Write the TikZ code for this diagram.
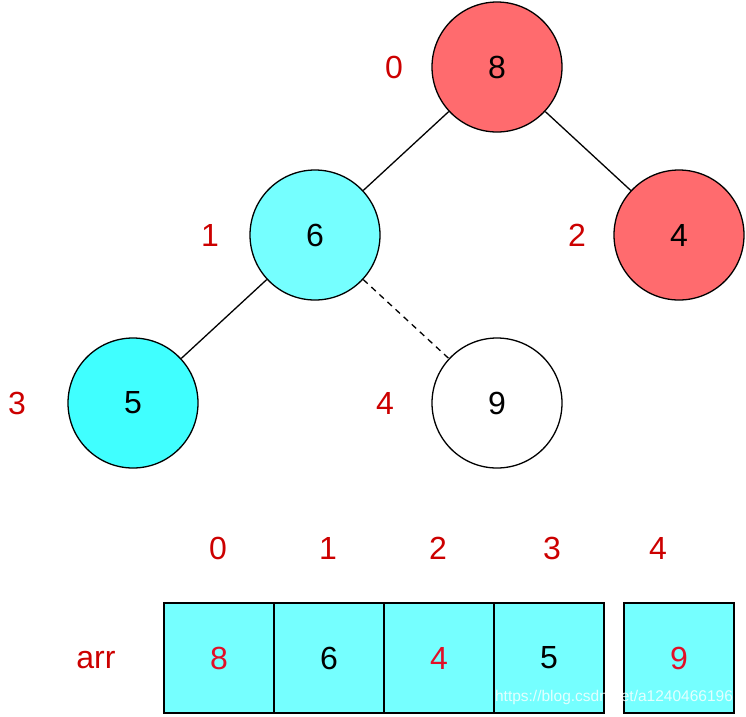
\documentclass[tikz,border=0pt]{standalone}
\usepackage{fontspec}
\setmainfont{Liberation Sans}
\usepackage{tikz}
\definecolor{heapred}{RGB}{255,107,110}
\definecolor{heapcyan}{RGB}{117,255,255}
\definecolor{deepcyan}{RGB}{64,255,255}
\definecolor{idxred}{RGB}{204,0,0}
\definecolor{arrred}{RGB}{225,15,40}

\begin{document}
\begin{tikzpicture}[x=1pt,y=-1pt,
        heapnode/.style={draw,circle,line width=1.3pt,minimum size=130pt,inner sep=0pt,font=\fontsize{32}{38}\selectfont},
        idx/.style={text=idxred,inner sep=0pt,font=\fontsize{32}{38}\selectfont},
        cell/.style={draw,fill=heapcyan,line width=1.3pt,minimum size=110pt,inner sep=0pt,font=\fontsize{32}{38}\selectfont}]
        \useasboundingbox (0,0) rectangle (746,716);
        \node[heapnode,fill=heapred] (N-0) at (497,67) {8};
        \node[heapnode,fill=heapcyan] (N-1) at (315,235) {6};
        \node[heapnode,fill=heapred] (N-2) at (679,235) {4};
        \node[heapnode,fill=deepcyan] (N-3) at (133,403) {5};
        \node[heapnode,fill=white] (N-4) at (497,403) {9};
        \foreach \number/\x/\y in {0/394/67,1/210/235,2/577/235,3/17/403,4/385/403}{
          \node[idx] (I-\number) at (\x,\y) {\number};
        }
        \draw[line width=1.3pt] (N-0) -- (N-1);
        \draw[line width=1.3pt] (N-0) -- (N-2);
        \draw[line width=1.3pt] (N-1) -- (N-3);
        \draw[line width=1.3pt,dash pattern=on 6pt off 5pt] (N-1) -- (N-4);
        \foreach \number/\x/\val/\col in {0/219/8/arrred,1/329/6/black,2/439/4/arrred,3/549/5/black,4/679/9/arrred}{
          \node[cell,text=\col] (A-\number) at (\x,658) {\val};
        }
        \foreach \number/\x in {0/218,1/328,2/438,3/552,4/658}{
          \node[idx] (J-\number) at (\x,548) {\number};
        }
        \node[idx,anchor=base] (arr) at (96,668) {arr};
        \node[text=white,opacity=0.8,inner sep=0pt,font=\fontsize{15.5}{18}\selectfont] (wm) at (614,697) {https://blog.csdn.net/a1240466196};
      \end{tikzpicture}
\end{document}
